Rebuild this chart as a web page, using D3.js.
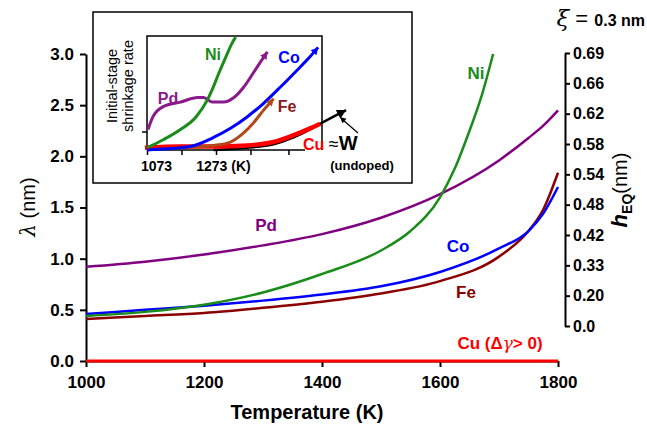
<!DOCTYPE html>
<html>
<head>
<meta charset="utf-8">
<script src="https://cdn.jsdelivr.net/npm/d3@7"></script>
<style>
  body { margin: 0; background: #fff; }
  svg { font-family: "Liberation Sans", Arial, sans-serif; font-weight: bold; }
</style>
</head>
<body>
<svg width="647" height="427"></svg>
<script>
// main chart data: temperature (K) vs lambda (nm)
var temps = [1000, 1100, 1200, 1300, 1400, 1500, 1600, 1700, 1750, 1775, 1800];
var pdVals = [0.92, 0.97, 1.04, 1.13, 1.24, 1.40, 1.63, 1.96, 2.18, 2.30, 2.45];
var coVals = [0.46, 0.50, 0.54, 0.59, 0.65, 0.73, 0.87, 1.10, 1.27, 1.44, 1.70];
var feVals = [0.41, 0.44, 0.47, 0.52, 0.58, 0.66, 0.78, 1.02, 1.27, 1.48, 1.84];
var niTemps = [1000, 1100, 1200, 1300, 1400, 1500, 1550, 1600, 1625, 1650, 1670, 1690];
var niVals = [0.44, 0.48, 0.55, 0.67, 0.85, 1.08, 1.27, 1.60, 1.88, 2.25, 2.58, 3.0];
var cuTemps = [1000, 1800];
var cuVals = [0, 0];
var xTicks = [1000, 1200, 1400, 1600, 1800];
var yTicks = [0, 0.5, 1.0, 1.5, 2.0, 2.5, 3.0];
var hTicks = ["0.0", "0.20", "0.33", "0.42", "0.48", "0.54", "0.58", "0.62", "0.66", "0.69"];

// inset data: temperature (K) vs shrinkage rate (arbitrary, 0..1)
var inNiT = [1073, 1120, 1170, 1215, 1248, 1262, 1282, 1302, 1320, 1330];
var inNi = [0.02, 0.09, 0.18, 0.29, 0.44, 0.53, 0.68, 0.82, 0.94, 0.99];
var inPdT = [1076, 1090, 1120, 1170, 1220, 1237, 1263, 1295, 1325, 1353, 1382, 1408, 1422];
var inPd = [0.18, 0.29, 0.38, 0.42, 0.46, 0.46, 0.42, 0.42, 0.46, 0.55, 0.68, 0.80, 0.86];
var inCoT = [1073, 1131, 1198, 1266, 1315, 1363, 1411, 1459, 1508, 1546, 1569];
var inCo = [0.0, 0.01, 0.03, 0.11, 0.19, 0.29, 0.41, 0.55, 0.70, 0.82, 0.90];
var inFeT = [1170, 1266, 1315, 1353, 1382, 1411, 1440];
var inFe = [0.02, 0.04, 0.07, 0.15, 0.24, 0.35, 0.45];
var inCuT = [1067, 1170, 1266, 1363, 1440, 1498, 1546, 1575];
var inCu = [0.02, 0.03, 0.03, 0.04, 0.07, 0.13, 0.19, 0.23];
var inWT = [1266, 1363, 1440, 1498, 1546, 1575, 1650];
var inW = [0.0, 0.02, 0.05, 0.11, 0.18, 0.23, 0.35];
var inTicks = [1073, 1173, 1273, 1373, 1483];

var svg = d3.select("svg");

// scales
var x = d3.scaleLinear().domain([1000, 1800]).range([86, 558]);
var y = d3.scaleLinear().domain([0, 3]).range([361, 54]);
var yR = d3.scalePoint().domain(hTicks).range([326, 53]);

var line = d3.line()
  .x(function(d) { return x(d[0]); })
  .y(function(d) { return y(d[1]); })
  .curve(d3.curveMonotoneX);

// axes
var gx = svg.append("g")
  .attr("transform", "translate(0,361)")
  .call(d3.axisBottom(x).tickValues(xTicks).tickSize(6).tickSizeOuter(0).tickFormat(d3.format("d")));
gx.selectAll("text").attr("font-size", 17).attr("font-weight", "bold").attr("fill", "#000").attr("dy", "1.05em");

var gy = svg.append("g")
  .attr("transform", "translate(86,0)")
  .call(d3.axisLeft(y).tickValues(yTicks).tickSize(6).tickSizeOuter(0).tickFormat(d3.format(".1f")));
gy.selectAll("text").attr("font-size", 17).attr("font-weight", "bold").attr("fill", "#000").attr("x", -12);

var gr = svg.append("g")
  .attr("transform", "translate(565,0)")
  .call(d3.axisRight(yR).tickSize(5).tickSizeOuter(0));
gr.selectAll("text").attr("font-size", 16).attr("font-weight", "bold").attr("fill", "#000").attr("x", 8);

svg.selectAll(".domain, .tick line").attr("stroke", "#000").attr("stroke-width", 2);

// main curves
var series = [
  { name: "Pd", t: temps, v: pdVals, color: "#800080" },
  { name: "Fe", t: temps, v: feVals, color: "#8b0000" },
  { name: "Co", t: temps, v: coVals, color: "#0000ff" },
  { name: "Ni", t: niTemps, v: niVals, color: "#1a8c1a" },
  { name: "Cu", t: cuTemps, v: cuVals, color: "#ff0000" }
];
svg.append("g").selectAll("path")
  .data(series)
  .enter()
  .append("path")
  .attr("d", function(s) { return line(d3.zip(s.t, s.v)); })
  .attr("fill", "none")
  .attr("stroke", function(s) { return s.color; })
  .attr("stroke-width", function(s) { return s.name == "Cu" ? 3 : 2.5; });

// curve labels
var labels = [
  { text: "Pd", x: 266, y: 231, color: "#800080" },
  { text: "Co", x: 458, y: 252, color: "#0000ff" },
  { text: "Fe", x: 466, y: 298, color: "#8b0000" },
  { text: "Ni", x: 476, y: 79, color: "#1a8c1a" }
];
svg.selectAll(".lbl")
  .data(labels)
  .enter()
  .append("text")
  .attr("class", "lbl")
  .attr("x", function(d) { return d.x; })
  .attr("y", function(d) { return d.y; })
  .attr("text-anchor", "middle")
  .attr("font-size", 17)
  .attr("fill", function(d) { return d.color; })
  .text(function(d) { return d.text; });

var cuLbl = svg.append("text")
  .attr("x", 500).attr("y", 349)
  .attr("text-anchor", "middle")
  .attr("font-size", 17)
  .attr("fill", "#ff0000");
cuLbl.append("tspan").text("Cu (Δ");
cuLbl.append("tspan").attr("font-family", "DejaVu Serif").attr("font-style", "italic").attr("font-weight", "normal").text("γ");
cuLbl.append("tspan").text("> 0)");

// axis titles
svg.append("text")
  .attr("x", 307).attr("y", 419)
  .attr("text-anchor", "middle")
  .attr("font-size", 20)
  .text("Temperature (K)");

var yt = svg.append("text")
  .attr("transform", "translate(35,207) rotate(-90)")
  .attr("text-anchor", "middle")
  .attr("font-size", 20)
  .attr("font-weight", "normal");
yt.append("tspan").attr("font-family", "DejaVu Serif").attr("font-style", "italic").text("λ");
yt.append("tspan").text(" (nm)");

var rt = svg.append("text")
  .attr("transform", "translate(627,190) rotate(-90)")
  .attr("text-anchor", "middle")
  .attr("font-size", 20)
  .attr("font-weight", "normal");
rt.append("tspan").attr("font-style", "italic").attr("font-weight", "bold").attr("font-size", 22).text("h");
rt.append("tspan").attr("font-size", 14).attr("font-weight", "bold").attr("dy", 5).text("EQ");
rt.append("tspan").attr("dy", -5).text("(nm)");

var xi = svg.append("text")
  .attr("x", 645).attr("y", 26)
  .attr("text-anchor", "end")
  .attr("font-size", 16);
xi.append("tspan").attr("font-family", "DejaVu Serif").attr("font-style", "italic").attr("font-weight", "normal").attr("font-size", 23).text("ξ");
xi.append("tspan").attr("font-weight", "normal").attr("font-size", 22).text(" = ");
xi.append("tspan").text("0.3 nm");

// inset
var inset = svg.append("g");
inset.append("rect")
  .attr("x", 93).attr("y", 12).attr("width", 319).attr("height", 171)
  .attr("fill", "#fff").attr("stroke", "#000").attr("stroke-width", 1.5);

var ix = d3.scaleLinear().domain([1073, 1273]).range([147, 216]);
var iy = d3.scaleLinear().domain([0, 1]).range([150, 36]);

inset.append("path")
  .attr("d", "M147,150V36H322V" + 150)
  .attr("fill", "none").attr("stroke", "#000").attr("stroke-width", 1.5);

var gix = inset.append("g")
  .attr("transform", "translate(0,150)")
  .call(d3.axisBottom(ix).tickValues(inTicks).tickSize(5).tickSizeOuter(0).tickFormat(function(d) { return d == 1073 ? "1073" : d == 1273 ? "1273 (K)" : ""; }));
gix.select(".domain").attr("d", "M147,0H305");
gix.selectAll("text").attr("font-size", 14).attr("font-weight", "bold").attr("fill", "#000").attr("dy", "0.9em");
gix.selectAll("text").filter(function(d) { return d == 1073; }).attr("dx", 9);
gix.selectAll("text").filter(function(d) { return d == 1273; }).attr("dx", 7);
inset.append("line").attr("x1", 142).attr("x2", 147).attr("y1", 132).attr("y2", 132).attr("stroke", "#000").attr("stroke-width", 1.5);
gix.selectAll(".domain, .tick line").attr("stroke", "#000").attr("stroke-width", 1.5);

var iyl = inset.append("text")
  .attr("transform", "translate(117,86) rotate(-90)")
  .attr("text-anchor", "middle")
  .attr("font-size", 14.5)
  .attr("font-weight", "normal");
iyl.append("tspan").attr("x", 0).attr("dy", 0).text("Initial-stage");
iyl.append("tspan").attr("x", 0).attr("dy", 16).text("shrinkage rate");

var iline = d3.line()
  .x(function(d) { return ix(d[0]); })
  .y(function(d) { return iy(d[1]); })
  .curve(d3.curveMonotoneX);

var inSeries = [
  { t: inWT, v: inW, color: "#000", w: 2.5 },
  { t: inCuT, v: inCu, color: "#ff0000", w: 4.5 },
  { t: inFeT, v: inFe, color: "#b04a1a", w: 3 },
  { t: inCoT, v: inCo, color: "#0000ff", w: 3 },
  { t: inPdT, v: inPd, color: "#8b1a8b", w: 3 },
  { t: inNiT, v: inNi, color: "#1a8c1a", w: 3 }
];
inset.append("g").selectAll("path")
  .data(inSeries)
  .enter()
  .append("path")
  .attr("d", function(s) { return iline(d3.zip(s.t, s.v)); })
  .attr("fill", "none")
  .attr("stroke", function(s) { return s.color; })
  .attr("stroke-width", function(s) { return s.w; });

// arrow heads at curve ends
function head(t, v, color, size) {
  var n = t.length;
  var x1 = ix(t[n - 2]), y1 = iy(v[n - 2]), x2 = ix(t[n - 1]), y2 = iy(v[n - 1]);
  var a = Math.atan2(y2 - y1, x2 - x1) * 180 / Math.PI;
  inset.append("path")
    .attr("d", "M0,0L" + (-size) + "," + (-size * 0.55) + "L" + (-size) + "," + (size * 0.55) + "Z")
    .attr("transform", "translate(" + x2 + "," + y2 + ") rotate(" + a + ")")
    .attr("fill", color);
}
head(inPdT, inPd, "#8b1a8b", 7);
head(inCoT, inCo, "#0000ff", 7);
head(inFeT, inFe, "#b04a1a", 7);
head(inWT, inW, "#000", 9);

// pointer from W label
inset.append("line").attr("x1", 358).attr("y1", 133).attr("x2", 343).attr("y2", 120)
  .attr("stroke", "#000").attr("stroke-width", 1.2);
inset.append("path").attr("d", "M0,0L-6,-3L-6,3Z")
  .attr("transform", "translate(340,117) rotate(" + (Math.atan2(-16, -18) * 180 / Math.PI) + ")")
  .attr("fill", "#000");

var inLabels = [
  { text: "Ni", x: 213, y: 60, color: "#1a8c1a" },
  { text: "Pd", x: 168, y: 104, color: "#8b1a8b" },
  { text: "Co", x: 289, y: 63, color: "#0000ff" },
  { text: "Fe", x: 287, y: 112, color: "#8b1a1a" }
];
inset.selectAll(".ilbl")
  .data(inLabels)
  .enter()
  .append("text")
  .attr("class", "ilbl")
  .attr("x", function(d) { return d.x; })
  .attr("y", function(d) { return d.y; })
  .attr("text-anchor", "middle")
  .attr("font-size", 16)
  .attr("fill", function(d) { return d.color; })
  .text(function(d) { return d.text; });

var cuw = inset.append("text").attr("x", 303).attr("y", 150).attr("font-size", 16);
cuw.append("tspan").attr("fill", "#ff0000").text("Cu ");
cuw.append("tspan").attr("font-weight", "normal").attr("font-size", 18).text("≈");
cuw.append("tspan").attr("font-size", 20).text("W");
inset.append("text").attr("x", 362).attr("y", 170).attr("text-anchor", "middle")
  .attr("font-size", 13).text("(undoped)");
</script>
</body>
</html>
